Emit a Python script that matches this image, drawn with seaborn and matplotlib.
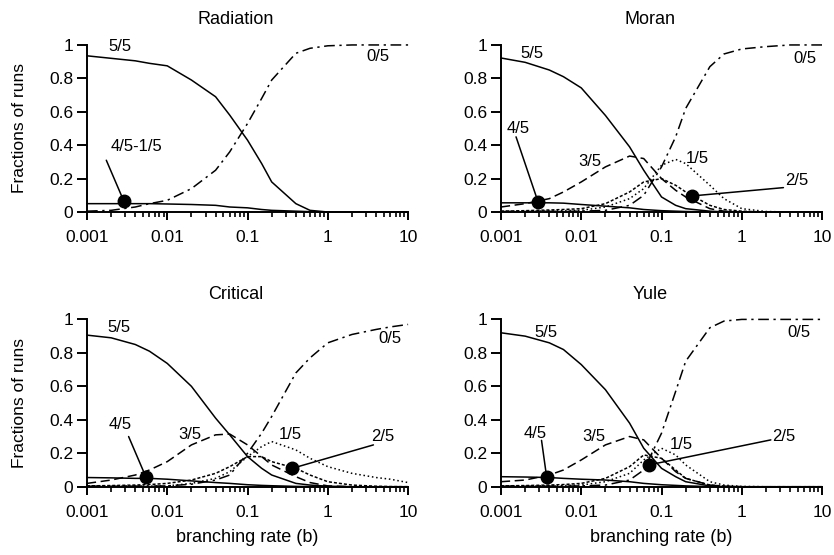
import numpy as np
import pandas as pd
import matplotlib
matplotlib.use("Agg")
import matplotlib.pyplot as plt
import seaborn as sns
from matplotlib.ticker import LogLocator, FixedLocator, FixedFormatter, NullFormatter

# ---------------- data ----------------
b = [0.001, 0.002, 0.004, 0.006, 0.01, 0.02, 0.04, 0.06, 0.1, 0.15, 0.2, 0.4, 0.6, 1, 2, 4, 6, 10]

rad_55 = [0.935, 0.92, 0.905, 0.89, 0.875, 0.79, 0.69, 0.58, 0.43, 0.29, 0.18, 0.05, 0.01, 0, 0, 0, 0, 0]
rad_low = [0.05, 0.05, 0.05, 0.05, 0.048, 0.045, 0.04, 0.03, 0.025, 0.015, 0.01, 0.005, 0.002, 0, 0, 0, 0, 0]
rad_05 = [0.005, 0.01, 0.03, 0.05, 0.07, 0.14, 0.25, 0.36, 0.53, 0.68, 0.79, 0.95, 0.98, 0.995, 1, 1, 1, 1]

mor_55 = [0.922, 0.896, 0.85, 0.81, 0.743, 0.578, 0.39, 0.25, 0.09, 0.04, 0.02, 0.005, 0.001, 0, 0, 0, 0, 0]
mor_45 = [0.055, 0.055, 0.055, 0.053, 0.045, 0.035, 0.025, 0.015, 0.008, 0.005, 0.003, 0.001, 0, 0, 0, 0, 0, 0]
mor_35 = [0.03, 0.05, 0.08, 0.12, 0.18, 0.27, 0.335, 0.32, 0.2, 0.13, 0.09, 0.02, 0.005, 0.001, 0, 0, 0, 0]
mor_25 = [0.005, 0.008, 0.012, 0.015, 0.02, 0.05, 0.12, 0.18, 0.2, 0.16, 0.12, 0.04, 0.015, 0.005, 0, 0, 0, 0]
mor_15 = [0.003, 0.004, 0.006, 0.008, 0.01, 0.03, 0.08, 0.14, 0.28, 0.315, 0.29, 0.16, 0.08, 0.02, 0.003, 0, 0, 0]
mor_05 = [0.003, 0.003, 0.004, 0.004, 0.005, 0.01, 0.04, 0.1, 0.27, 0.45, 0.62, 0.87, 0.946, 0.976, 0.99, 1, 1, 1]

cri_55 = [0.906, 0.89, 0.85, 0.81, 0.737, 0.6, 0.41, 0.31, 0.18, 0.11, 0.07, 0.02, 0.01, 0.003, 0, 0, 0, 0]
cri_45 = [0.055, 0.053, 0.05, 0.05, 0.045, 0.035, 0.025, 0.02, 0.012, 0.008, 0.006, 0.002, 0.001, 0, 0, 0, 0, 0]
cri_35 = [0.02, 0.04, 0.07, 0.1, 0.15, 0.25, 0.31, 0.315, 0.25, 0.18, 0.13, 0.06, 0.025, 0.005, 0, 0, 0, 0]
cri_25 = [0.005, 0.007, 0.01, 0.013, 0.02, 0.04, 0.08, 0.12, 0.18, 0.18, 0.15, 0.11, 0.07, 0.03, 0.01, 0.003, 0.001, 0]
cri_15 = [0.003, 0.003, 0.004, 0.004, 0.005, 0.02, 0.05, 0.09, 0.18, 0.24, 0.27, 0.22, 0.17, 0.12, 0.08, 0.055, 0.045, 0.025]
cri_05 = [0.003, 0.003, 0.004, 0.004, 0.005, 0.015, 0.04, 0.07, 0.2, 0.32, 0.42, 0.68, 0.77, 0.86, 0.91, 0.94, 0.955, 0.97]

yul_55 = [0.92, 0.9, 0.86, 0.82, 0.73, 0.58, 0.38, 0.23, 0.11, 0.06, 0.03, 0.005, 0.001, 0, 0, 0, 0, 0]
yul_45 = [0.06, 0.058, 0.055, 0.05, 0.045, 0.04, 0.03, 0.02, 0.012, 0.008, 0.005, 0.001, 0, 0, 0, 0, 0, 0]
yul_35 = [0.03, 0.04, 0.07, 0.1, 0.16, 0.25, 0.3, 0.28, 0.17, 0.09, 0.05, 0.01, 0.003, 0, 0, 0, 0, 0]
yul_25 = [0.005, 0.007, 0.01, 0.013, 0.02, 0.05, 0.12, 0.19, 0.17, 0.1, 0.05, 0.01, 0.003, 0, 0, 0, 0, 0]
yul_15 = [0.003, 0.004, 0.005, 0.007, 0.01, 0.03, 0.08, 0.16, 0.23, 0.19, 0.13, 0.03, 0.01, 0.002, 0, 0, 0, 0]
yul_05 = [0.003, 0.003, 0.004, 0.004, 0.005, 0.01, 0.04, 0.1, 0.32, 0.57, 0.75, 0.95, 0.99, 1, 1, 1, 1, 1]

panel_titles = ["Radiation", "Moran", "Critical", "Yule"]
x_ticks = [0.001, 0.01, 0.1, 1, 10]
x_tick_labels = ["0.001", "0.01", "0.1", "1", "10"]
y_ticks = [0, 0.2, 0.4, 0.6, 0.8, 1]
y_tick_labels = ["0", "0.2", "0.4", "0.6", "0.8", "1"]

# ---------------- style ----------------
sns.set_style("ticks", {"axes.edgecolor": "black", "text.color": "black",
                        "xtick.color": "black", "ytick.color": "black"})
plt.rcParams["font.family"] = ["Liberation Sans", "DejaVu Sans"]
plt.rcParams["axes.linewidth"] = 1.4

styles = {
    "5/5": "-",
    "4/5": "-",
    "4/5-1/5": "-",
    "3/5": (0, (6, 3)),
    "2/5": (0, (2, 1.3)),
    "1/5": (0, (1, 1.8)),
    "0/5": (0, (7, 3, 1.5, 3)),
}

panels = [
    (panel_titles[0], {"5/5": rad_55, "4/5-1/5": rad_low, "0/5": rad_05}),
    (panel_titles[1], {"5/5": mor_55, "4/5": mor_45, "3/5": mor_35, "2/5": mor_25, "1/5": mor_15, "0/5": mor_05}),
    (panel_titles[2], {"5/5": cri_55, "4/5": cri_45, "3/5": cri_35, "2/5": cri_25, "1/5": cri_15, "0/5": cri_05}),
    (panel_titles[3], {"5/5": yul_55, "4/5": yul_45, "3/5": yul_35, "2/5": yul_25, "1/5": yul_15, "0/5": yul_05}),
]

# plain labels: (text, b, value)
labels = {
    "Radiation": [("5/5", 0.0026, 0.99), ("0/5", 4.2, 0.93)],
    "Moran": [("5/5", 0.0024, 0.95), ("0/5", 6.2, 0.92), ("3/5", 0.0128, 0.305), ("1/5", 0.28, 0.32)],
    "Critical": [("5/5", 0.0025, 0.95), ("0/5", 5.9, 0.885), ("3/5", 0.0193, 0.31), ("1/5", 0.34, 0.31)],
    "Yule": [("5/5", 0.0036, 0.92), ("0/5", 5.1, 0.92), ("3/5", 0.0142, 0.30), ("1/5", 0.178, 0.25)],
}
# pointer labels: (text, text_b, text_v, line_b, line_v, marker_b, marker_v)
pointers = {
    "Radiation": [("4/5-1/5", 0.0041, 0.39, 0.00174, 0.31, 0.00286, 0.068)],
    "Moran": [("4/5", 0.00166, 0.50, 0.00154, 0.45, 0.0029, 0.06),
              ("2/5", 4.8, 0.19, 3.3, 0.146, 0.238, 0.096)],
    "Critical": [("4/5", 0.0026, 0.37, 0.0033, 0.30, 0.0054, 0.06),
                 ("2/5", 4.8, 0.30, 3.7, 0.25, 0.36, 0.11)],
    "Yule": [("4/5", 0.0027, 0.32, 0.0032, 0.277, 0.0037, 0.06),
             ("2/5", 3.3, 0.30, 2.3, 0.28, 0.069, 0.13)],
}

fig = plt.figure(figsize=(8.34, 5.55), dpi=100)
positions = [
    [0.1043, 0.618, 0.385, 0.301],
    [0.6007, 0.618, 0.385, 0.301],
    [0.1043, 0.123, 0.385, 0.3015],
    [0.6007, 0.123, 0.385, 0.3015],
]

for i, ((name, series), pos) in enumerate(zip(panels, positions)):
    ax = fig.add_axes(pos)
    for key, vals in series.items():
        df = pd.DataFrame({"b": b, "frac": vals})
        sns.lineplot(data=df, x="b", y="frac", ax=ax, color="black", lw=1.1,
                     linestyle=styles[key], clip_on=False)
    ax.set_xscale("log")
    ax.set_xlim(0.001, 10)
    ax.set_ylim(0, 1)
    sns.despine(ax=ax)
    ax.xaxis.set_major_locator(FixedLocator(x_ticks))
    ax.xaxis.set_major_formatter(FixedFormatter(x_tick_labels))
    ax.xaxis.set_minor_locator(LogLocator(base=10, subs=np.arange(2, 10)))
    ax.xaxis.set_minor_formatter(NullFormatter())
    ax.yaxis.set_major_locator(FixedLocator(y_ticks))
    ax.yaxis.set_major_formatter(FixedFormatter(y_tick_labels))
    ax.tick_params(axis="x", which="major", length=6, width=1.4, labelsize=12.5, pad=7,
                   direction="out", colors="black")
    ax.tick_params(axis="x", which="minor", length=3.5, width=1.2, direction="out", colors="black")
    ax.tick_params(axis="y", which="major", length=7, width=1.4, labelsize=12.5, pad=3,
                   direction="out", colors="black")
    ax.set_xlabel("")
    ax.set_ylabel("")
    ax.text(0.464, 1.15, name, transform=ax.transAxes, ha="center", va="center", fontsize=13,
            color="black")
    if i in (2, 3):
        ax.text(0.5, -0.305, "branching rate (b)", transform=ax.transAxes, ha="center", va="center",
                fontsize=13, color="black")
    if i in (0, 2):
        ax.text(-0.209, 0.5, "Fractions of runs", transform=ax.transAxes, ha="center", va="center",
                rotation=90, fontsize=12.5, color="black")
    for txt, tb, tv in labels[name]:
        ax.text(tb, tv, txt, ha="center", va="center", fontsize=12, color="black")
    for txt, tb, tv, lb, lv, mb, mv in pointers[name]:
        ax.text(tb, tv, txt, ha="center", va="center", fontsize=12, color="black")
        ax.plot([lb, mb], [lv, mv], color="black", lw=1.1, clip_on=False)
        ax.plot([mb], [mv], marker="o", color="black", ms=9, clip_on=False, zorder=5)

fig.savefig("out.png", dpi=100)
